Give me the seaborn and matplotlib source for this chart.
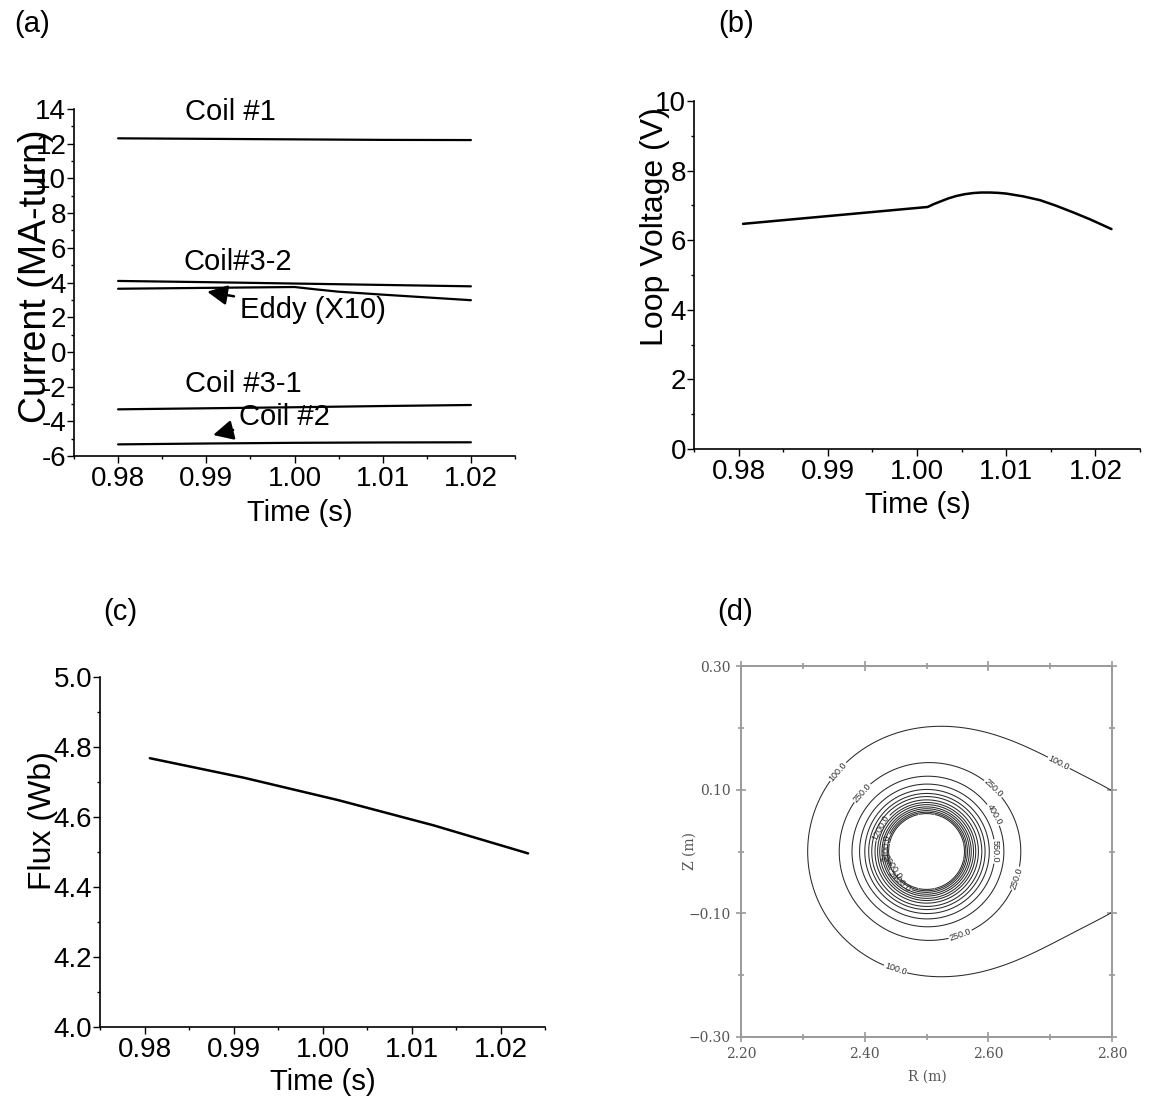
import numpy as np
import pandas as pd
import matplotlib
matplotlib.use("Agg")
import matplotlib.pyplot as plt
from matplotlib.ticker import MultipleLocator, FormatStrFormatter, FixedLocator
import seaborn as sns

sns.set_style("ticks")
plt.rcParams['font.family'] = ['Liberation Sans', 'DejaVu Sans']
plt.rcParams['axes.unicode_minus'] = False
plt.rcParams['text.color'] = 'black'
plt.rcParams['axes.labelcolor'] = 'black'
plt.rcParams['xtick.color'] = 'black'
plt.rcParams['ytick.color'] = 'black'

# DATA

# (a) coil currents (MA-turn)
coil_time = [0.98, 0.99, 1.00, 1.01, 1.02]
coil1 = [12.31, 12.28, 12.25, 12.22, 12.21]
coil32 = [4.09, 4.02, 3.94, 3.86, 3.78]
coil31 = [-3.31, -3.25, -3.19, -3.12, -3.06]
coil2 = [-5.33, -5.28, -5.24, -5.22, -5.21]
eddy_time = [0.98, 0.99, 1.00, 1.0025, 1.005, 1.01, 1.015, 1.02]
eddy_x10 = [3.64, 3.69, 3.74, 3.60, 3.47, 3.30, 3.14, 2.98]

# (b) loop voltage (V)
volt_time = [0.9805, 1.0012, 1.0019, 1.0026, 1.0035, 1.0044, 1.0053, 1.0063,
             1.0072, 1.0082, 1.0091, 1.0100, 1.0119, 1.0138, 1.0156,
             1.0175, 1.0194, 1.0218]
loop_volt = [6.47, 6.955, 7.04, 7.11, 7.20, 7.27, 7.32, 7.355,
             7.37, 7.37, 7.36, 7.34, 7.26, 7.15, 6.99,
             6.80, 6.60, 6.32]

# (c) flux (Wb)
flux_time = [0.9806, 0.9912, 1.0018, 1.0125, 1.0231]
flux = [4.768, 4.712, 4.648, 4.576, 4.496]

# (d) contour map
plasma_center = (2.50, 0.0)
hole_radius = 0.06
core_strength = 0.686
side_strength = 87.0
side_center_r = 2.85
side_width_r = 0.30
side_width_z = 0.35
contour_levels = [100, 250, 400, 550, 700, 850, 1000, 1200, 1400, 1600,
                  1850, 2100, 2400, 2700, 3000]
label_spots = [(2.35, 0.135), (2.72, 0.155), (2.45, -0.19),
               (2.39, 0.10), (2.63, 0.125), (2.56, -0.15),
               (2.61, 0.06), (2.615, 0.0), (2.635, -0.04),
               (2.425, 0.04), (2.435, 0.005), (2.445, -0.025), (2.455, -0.05)]

W, H = 1165, 1108
fig = plt.figure(figsize=(W / 100, H / 100), dpi=100)


def px_axes(left, right, top, bottom):
    return fig.add_axes([left / W, 1 - bottom / H, (right - left) / W, (bottom - top) / H])


def style_line_axes(ax):
    sns.despine(ax=ax)
    for s in ['left', 'bottom']:
        ax.spines[s].set_linewidth(1.2)
        ax.spines[s].set_color('black')
    ax.tick_params(which='major', direction='out', length=5, width=1,
                   labelsize=20, color='black', pad=2)
    ax.tick_params(which='minor', direction='out', length=2.5, width=1, color='black')
    ax.tick_params(axis='y', pad=0.5)
    ax.set_xlim(0.975, 1.025)
    ax.xaxis.set_major_locator(MultipleLocator(0.01))
    ax.xaxis.set_minor_locator(MultipleLocator(0.005))
    ax.xaxis.set_major_formatter(FormatStrFormatter('%.2f'))
    ax.set_xlabel('Time (s)', fontsize=21, va='center')
    ax.grid(False)


# PANEL (a)
ax_a = px_axes(74, 515, 109, 456)
for y in [coil1, coil32, coil31, coil2]:
    sns.lineplot(x=coil_time, y=y, ax=ax_a, color='black', lw=1.6)
sns.lineplot(x=eddy_time, y=eddy_x10, ax=ax_a, color='black', lw=1.6)
style_line_axes(ax_a)
ax_a.set_ylim(-6, 14)
ax_a.yaxis.set_major_locator(MultipleLocator(2))
ax_a.yaxis.set_minor_locator(MultipleLocator(1))
ax_a.set_ylabel('Current (MA-turn)', fontsize=27, va='center')
ax_a.yaxis.set_label_coords(-0.086, 0.517)
ax_a.xaxis.set_label_coords(0.512, -0.164)

ax_a.text(0.9876, 13.8, 'Coil #1', fontsize=21, va='center')
ax_a.text(0.98737, 5.18, 'Coil#3-2', fontsize=21, va='center')
ax_a.text(0.98759, -1.85, 'Coil #3-1', fontsize=21, va='center')
ax_a.annotate('Eddy (X10)', xy=(0.9901, 3.47), xytext=(0.99382, 2.42),
              fontsize=21, va='center',
              arrowprops=dict(arrowstyle='-|>', color='black', lw=1.8,
                              mutation_scale=30, shrinkA=2, shrinkB=0))
ax_a.annotate('Coil #2', xy=(0.99077, -4.79), xytext=(0.99371, -3.75),
              fontsize=21, va='center',
              arrowprops=dict(arrowstyle='-|>', color='black', lw=1.8,
                              mutation_scale=30, shrinkA=2, shrinkB=0))

# PANEL (b)
ax_b = px_axes(694, 1140, 101, 449)
sns.lineplot(x=volt_time, y=loop_volt, ax=ax_b, color='black', lw=1.8)
style_line_axes(ax_b)
ax_b.set_ylim(0, 10)
ax_b.yaxis.set_major_locator(MultipleLocator(2))
ax_b.yaxis.set_minor_locator(MultipleLocator(1))
ax_b.set_ylabel('Loop Voltage (V)', fontsize=23, va='center')
ax_b.yaxis.set_label_coords(-0.087, 0.64)
ax_b.xaxis.set_label_coords(0.502, -0.161)

# PANEL (c)
ax_c = px_axes(100, 545, 677, 1027)
sns.lineplot(x=flux_time, y=flux, ax=ax_c, color='black', lw=1.8)
style_line_axes(ax_c)
ax_c.set_ylim(4.0, 5.0)
ax_c.yaxis.set_major_locator(MultipleLocator(0.2))
ax_c.yaxis.set_minor_locator(MultipleLocator(0.1))
ax_c.yaxis.set_major_formatter(FormatStrFormatter('%.1f'))
ax_c.set_ylabel('Flux (Wb)', fontsize=23, va='center')
ax_c.yaxis.set_label_coords(-0.128, 0.59)
ax_c.xaxis.set_label_coords(0.501, -0.157)

# PANEL (d)
ax_d = px_axes(741, 1112, 666, 1037)
r = np.linspace(2.2, 2.8, 361)
z = np.linspace(-0.3, 0.3, 361)
RR, ZZ = np.meshgrid(r, z)
dist = np.hypot(RR - plasma_center[0], ZZ - plasma_center[1])
field = core_strength / np.maximum(dist, 1e-3) ** 3 \
    + side_strength * np.exp(-((RR - side_center_r) / side_width_r) ** 2) \
    * np.exp(-(ZZ / side_width_z) ** 2)
field = np.ma.masked_where(dist < hole_radius, field)
cs = ax_d.contour(RR, ZZ, field, levels=contour_levels, colors='#2a2a2a',
                  linewidths=0.75)
ax_d.clabel(cs, fmt='%.1f', fontsize=6.5, inline=True, inline_spacing=1,
            manual=label_spots)
ax_d.set_xlim(2.2, 2.8)
ax_d.set_ylim(-0.3, 0.3)
for s in ax_d.spines.values():
    s.set_color('#9a9a9a')
    s.set_linewidth(1.4)
ax_d.xaxis.set_major_locator(FixedLocator([2.2, 2.4, 2.6, 2.8]))
ax_d.xaxis.set_minor_locator(FixedLocator([2.3, 2.5, 2.7]))
ax_d.yaxis.set_major_locator(FixedLocator([-0.3, -0.1, 0.1, 0.3]))
ax_d.yaxis.set_minor_locator(FixedLocator([-0.2, 0.0, 0.2]))
ax_d.xaxis.set_major_formatter(FormatStrFormatter('%.2f'))
ax_d.yaxis.set_major_formatter(
    plt.FuncFormatter(lambda v, p: ('\u2212' if v < 0 else '') + f'{abs(v):.2f}'))
ax_d.tick_params(which='both', direction='inout', top=True, right=True,
                 color='#9a9a9a', width=1.2, labelcolor='#555555')
ax_d.tick_params(which='major', length=7, pad=4)
ax_d.tick_params(which='minor', length=5)
for lab in ax_d.get_xticklabels() + ax_d.get_yticklabels():
    lab.set_family('DejaVu Serif')
    lab.set_fontsize(10)
ax_d.set_xlabel('R (m)', fontsize=10, family='DejaVu Serif', color='#555555',
                va='center')
ax_d.set_ylabel('Z (m)', fontsize=10, family='DejaVu Serif', color='#555555',
                va='center')
ax_d.xaxis.set_label_coords((927 - 741) / 371, -(1077 - 1037) / 371)
ax_d.yaxis.set_label_coords(-(741 - 690) / 371, 0.5)
ax_d.grid(False)

# panel letters
for lab, x, y in [('(a)', 14, 24), ('(b)', 718, 24), ('(c)', 103, 612), ('(d)', 717, 612)]:
    fig.text(x / W, 1 - y / H, lab, fontsize=21, va='center', ha='left')

fig.savefig('out.png', dpi=100)
